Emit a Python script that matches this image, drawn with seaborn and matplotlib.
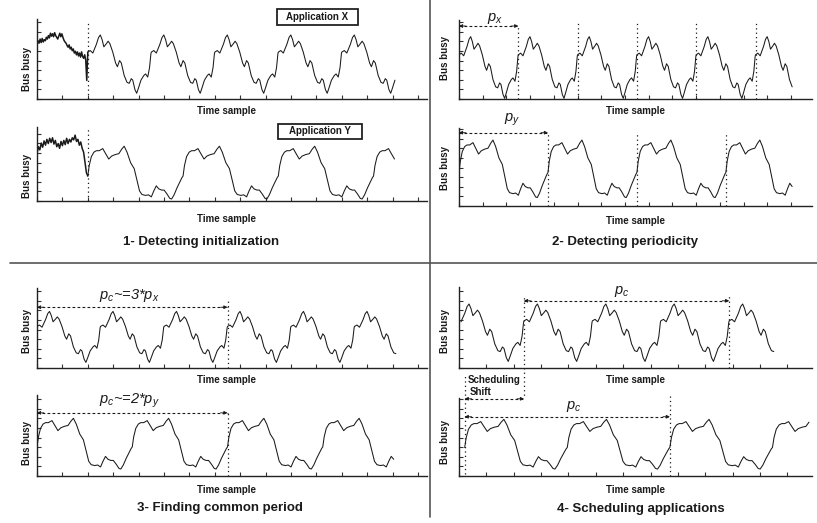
import numpy as np
import pandas as pd
import matplotlib
matplotlib.use("Agg")
import matplotlib.pyplot as plt
import seaborn as sns
from matplotlib.patches import Rectangle
from matplotlib.lines import Line2D
from matplotlib.ticker import MultipleLocator, FixedLocator

# ---------------- data ----------------
# time is measured in periods of application X
X_PERIOD = 1.0
Y_PERIOD = 1.5
INIT_LEN = 0.8

# one period of application X: phase within period, normalised bus-busy level
X_PHASE = [0.000, 0.039, 0.079, 0.135, 0.169, 0.197, 0.225, 0.253, 0.292, 0.320,
           0.348, 0.393, 0.438, 0.466, 0.500, 0.528, 0.573, 0.618, 0.652, 0.685,
           0.708, 0.742, 0.770, 0.798, 0.837, 0.882, 0.910, 0.944, 0.972, 0.994]
X_LEVEL = [0.706, 0.733, 0.690, 0.840, 0.957, 1.000, 0.920, 0.797, 0.850, 0.893,
           0.850, 0.706, 0.519, 0.455, 0.561, 0.519, 0.305, 0.187, 0.171, 0.251,
           0.225, 0.064, 0.000, 0.091, 0.225, 0.305, 0.332, 0.278, 0.439, 0.679]

# one period of application Y
Y_PHASE = [0.000, 0.015, 0.037, 0.064, 0.090, 0.120, 0.157, 0.187, 0.220, 0.251,
           0.288, 0.326, 0.356, 0.382, 0.412, 0.449, 0.487, 0.517, 0.543, 0.569,
           0.607, 0.637, 0.667, 0.693, 0.719, 0.745, 0.775, 0.801, 0.831, 0.861,
           0.880, 0.906, 0.936, 0.966, 0.989]
Y_LEVEL = [0.435, 0.633, 0.802, 0.887, 0.915, 0.915, 0.955, 0.859, 0.757, 0.814,
           0.842, 0.859, 0.944, 1.000, 0.887, 0.689, 0.576, 0.350, 0.153, 0.085,
           0.068, 0.079, 0.040, 0.153, 0.249, 0.192, 0.169, 0.169, 0.096, 0.011,
           0.000, 0.079, 0.209, 0.322, 0.407]

# noisy initialisation phase (evenly spaced over INIT_LEN)
X_INIT = [0.83, 0.90, 0.86, 0.93, 0.87, 0.94, 0.88, 0.92, 0.90, 0.96,
          0.93, 0.99, 0.95, 1.03, 0.98, 1.02, 0.97, 1.04, 0.99, 0.96,
          0.93, 0.98, 1.03, 0.97, 1.02, 0.96, 0.91, 0.88, 0.86, 0.82,
          0.79, 0.83, 0.76, 0.79, 0.73, 0.76, 0.69, 0.72, 0.66, 0.71,
          0.64, 0.69, 0.62, 0.71, 0.63, 0.60, 0.66, 0.57, 0.22]
Y_INIT = [0.86, 0.99, 0.93, 1.06, 0.98, 1.10, 1.02, 1.13, 1.05, 1.15,
          1.07, 1.16, 1.04, 1.11, 0.99, 1.05, 0.96, 1.09, 1.01, 1.11,
          1.03, 1.15, 1.05, 1.13, 1.08, 1.16, 1.12, 1.21, 1.09, 1.13,
          1.02, 1.08, 0.96, 0.89, 0.70, 0.50]

TITLES = ["1- Detecting initialization", "2- Detecting periodicity",
          "3- Finding common period", "4- Scheduling applications"]
XLABEL = "Time sample"
YLABEL = "Bus busy"
APP_NAMES = ["Application X", "Application Y"]

# ---------------- layout ----------------
W, H = 817, 523
def fx(px): return px / W
def fy(py): return 1 - py / H

sns.set_style("white")
plt.rcParams["font.family"] = ["Liberation Sans", "DejaVu Sans"]
plt.rcParams["mathtext.fontset"] = "custom"
plt.rcParams["mathtext.it"] = "Liberation Sans:italic"
plt.rcParams["mathtext.rm"] = "Liberation Sans"

fig = plt.figure(figsize=(W / 100, H / 100), dpi=100)
INK = "#1a1a1a"

def periodic(phase, level, period, start, end):
    xs, ys = [], []
    k = 0
    while start + k * period <= end:
        base = start + k * period
        for p, v in zip(phase, level):
            x = base + p * period
            if 0 <= x <= end:
                xs.append(x); ys.append(v)
        k += 1
    return xs, ys

# panel: box (left, top, right, bottom) px, px per time unit, ylim, series spec, label coords
PANELS = {
    "1a": dict(box=(37, 19, 427, 99), ppu=63.5, ylim=(-0.098, 1.274), app="X", start=INIT_LEN, end=5.65, init=X_INIT,
               ylab=(-0.013, 0.375), xlab=(0.487, -0.085)),
    "1b": dict(box=(37, 127, 427, 201), ppu=63.5, ylim=(-0.038, 1.364), app="Y", start=INIT_LEN, end=5.65, init=Y_INIT,
               ylab=(-0.013, 0.34), xlab=(0.487, -0.17)),
    "2a": dict(box=(459, 20, 812, 99), ppu=59.3, ylim=(-0.01, 1.27), app="X", start=0.0, end=5.63, init=None,
               ylab=(-0.026, 0.525), xlab=(0.5, -0.085)),
    "2b": dict(box=(459, 128, 812, 206), ppu=59.3, ylim=(-0.147, 1.21), app="Y", start=0.0, end=5.64, init=None,
               ylab=(-0.026, 0.49), xlab=(0.5, -0.13)),
    "3a": dict(box=(37, 288, 427, 368), ppu=63.5, ylim=(-0.11, 1.46), app="X", start=0.0, end=5.67, init=None,
               ylab=(-0.013, 0.46), xlab=(0.487, -0.085)),
    "3b": dict(box=(37, 395, 427, 476), ppu=63.5, ylim=(-0.138, 1.46), app="Y", start=0.0, end=5.64, init=None,
               ylab=(-0.013, 0.41), xlab=(0.487, -0.11)),
    "4a": dict(box=(459, 287, 812, 368), ppu=68.4, ylim=(-0.115, 1.296), app="X", start=-0.05, end=4.62, init=None,
               ylab=(-0.026, 0.46), xlab=(0.5, -0.085)),
    "4b": dict(box=(459, 398, 812, 476), ppu=68.4, ylim=(-0.14, 1.43), app="Y", start=0.083, end=5.15, init=None,
               ylab=(-0.026, 0.43), xlab=(0.5, -0.11)),
}

axes = {}
for key, cfg in PANELS.items():
    l, t, r, b = cfg["box"]
    ax = fig.add_axes([fx(l), fy(b), (r - l) / W, (b - t) / H])
    axes[key] = ax
    if cfg["app"] == "X":
        phase, level, period = X_PHASE, X_LEVEL, X_PERIOD
    else:
        phase, level, period = Y_PHASE, Y_LEVEL, Y_PERIOD
    xs, ys = periodic(phase, level, period, cfg["start"], cfg["end"])
    df = pd.DataFrame({"t": xs, "busy": ys})
    sns.lineplot(data=df, x="t", y="busy", ax=ax, estimator=None, sort=False,
                 color=INK, lw=0.75)
    if cfg["init"] is not None:
        n = len(cfg["init"])
        ti = list(np.linspace(0, INIT_LEN, n + 1)[:-1]) + [xs[0]]
        yi = list(cfg["init"]) + [ys[0]]
        sns.lineplot(x=ti, y=yi, ax=ax, estimator=None, sort=False, color=INK, lw=1.1)
    ax.set_xlim(0, (r - l) / cfg["ppu"])
    ylo, yhi = cfg["ylim"]
    ax.set_ylim(ylo, yhi)
    step = (yhi - ylo) / (b - t) * 9.6
    ax.yaxis.set_major_locator(FixedLocator(np.arange(ylo, yhi, step)))
    ax.xaxis.set_major_locator(MultipleLocator(0.4))
    ax.tick_params(direction="in", length=3, width=0.8, color="#333",
                   labelleft=False, labelbottom=False, left=True, bottom=True)
    for s in ["top", "right"]:
        ax.spines[s].set_visible(False)
    for s in ["left", "bottom"]:
        ax.spines[s].set_color("#222")
        ax.spines[s].set_linewidth(1.0)
    ax.set_xlabel(XLABEL, fontsize=7, fontweight="bold", color=INK)
    ax.set_ylabel(YLABEL, fontsize=7, fontweight="bold", color=INK)
    ax.xaxis.set_label_coords(*cfg["xlab"])
    ax.yaxis.set_label_coords(*cfg["ylab"])

DOT = dict(color=INK, lw=0.9, ls=(0, (1, 2.5)), clip_on=False)

def vline(ax, x, y0, y1):
    ax.plot([x, x], [y0, y1], transform=ax.get_xaxis_transform(), **DOT)

def arrow(ax, x0, x1, y):
    tr = ax.get_xaxis_transform()
    ax.plot([x0, x1], [y, y], transform=tr, color=INK, lw=0.8, ls=(0, (2.5, 2)), clip_on=False)
    for xe, off in [(x0, 5), (x1, -5)]:
        ax.annotate("", xy=(xe, y), xycoords=tr, xytext=(off, 0), textcoords="offset points",
                    arrowprops=dict(arrowstyle="-|>", color=INK, lw=0.6, mutation_scale=5,
                                    shrinkA=0, shrinkB=0))

def ptext(ax, x, y, s, size=10.5):
    ax.text(x, y, s, transform=ax.get_xaxis_transform(), fontsize=size, fontstyle="italic",
            ha="center", va="center", color=INK)

# panel 1: initialisation markers
vline(axes["1a"], INIT_LEN, 0, 0.97)
vline(axes["1b"], INIT_LEN, 0, 0.98)

# panel 2: periods
for k in range(1, 6):
    vline(axes["2a"], k * X_PERIOD, 0, 0.93 if k == 1 else 0.97)
arrow(axes["2a"], 0, X_PERIOD, 0.924)
ptext(axes["2a"], 0.6, 1.02, r"$p_x$")
for k in range(1, 4):
    vline(axes["2b"], k * Y_PERIOD, 0, 0.95)
arrow(axes["2b"], 0, Y_PERIOD, 0.94)
ptext(axes["2b"], 0.9, 1.10, r"$p_y$")

# panel 3: common period
PC = 3 * X_PERIOD
vline(axes["3a"], PC, 0, 0.85)
arrow(axes["3a"], 0, PC, 0.76)
ptext(axes["3a"], 1.45, 0.90, r"$p_c$~=3*$p_x$")
vline(axes["3b"], 2 * Y_PERIOD, 0, 0.79)
arrow(axes["3b"], 0, 2 * Y_PERIOD, 0.78)
ptext(axes["3b"], 1.45, 0.93, r"$p_c$~=2*$p_y$")

# panel 4: scheduling
a4, b4 = axes["4a"], axes["4b"]
s0 = PANELS["4a"]["start"] + X_PERIOD
vline(a4, s0, -0.45, 0.9)
vline(a4, s0 + PC, 0, 0.9)
arrow(a4, s0, s0 + PC, 0.83)
ptext(a4, s0 + 1.43, 0.95, r"$p_c$")
a4.text(0.13, -0.145, "Scheduling", transform=a4.get_xaxis_transform(), fontsize=7,
        fontweight="bold", ha="left", va="center", color=INK)
a4.text(0.16, -0.30, "Shift", transform=a4.get_xaxis_transform(), fontsize=7,
        fontweight="bold", ha="left", va="center", color=INK)
y0 = PANELS["4b"]["start"]
vline(b4, y0, 0.03, 1.28)
vline(b4, y0 + 2 * Y_PERIOD, 0, 1.04)
arrow(b4, y0, y0 + 2 * Y_PERIOD, 0.76)
arrow(b4, y0, s0, 0.99)
ptext(b4, y0 + 1.6, 0.89, r"$p_c$")

# application boxes
for name, (x0, y0p, x1, y1p) in zip(APP_NAMES, [(277, 9, 358, 25), (278, 124, 362, 139)]):
    fig.add_artist(Rectangle((fx(x0), fy(y1p)), (x1 - x0) / W, (y1p - y0p) / H,
                             transform=fig.transFigure, fc="white", ec="#222", lw=1.3))
    fig.text(fx((x0 + x1) / 2), fy((y0p + y1p) / 2), name, fontsize=7, fontweight="bold",
             ha="center", va="center", color=INK)

# titles
for s, (cx, cy) in zip(TITLES, [(201, 242), (625, 242), (220, 508), (641, 509)]):
    fig.text(fx(cx), fy(cy), s, fontsize=9.5, fontweight="bold", ha="center", va="center", color=INK)

# dividers
fig.add_artist(Line2D([fx(10), fx(817)], [fy(262.7), fy(262.7)], transform=fig.transFigure,
                      color="#555", lw=1.2))
fig.add_artist(Line2D([fx(430), fx(430)], [fy(0), fy(517)], transform=fig.transFigure,
                      color="#555", lw=1.2))

fig.savefig("out.png", dpi=100)
